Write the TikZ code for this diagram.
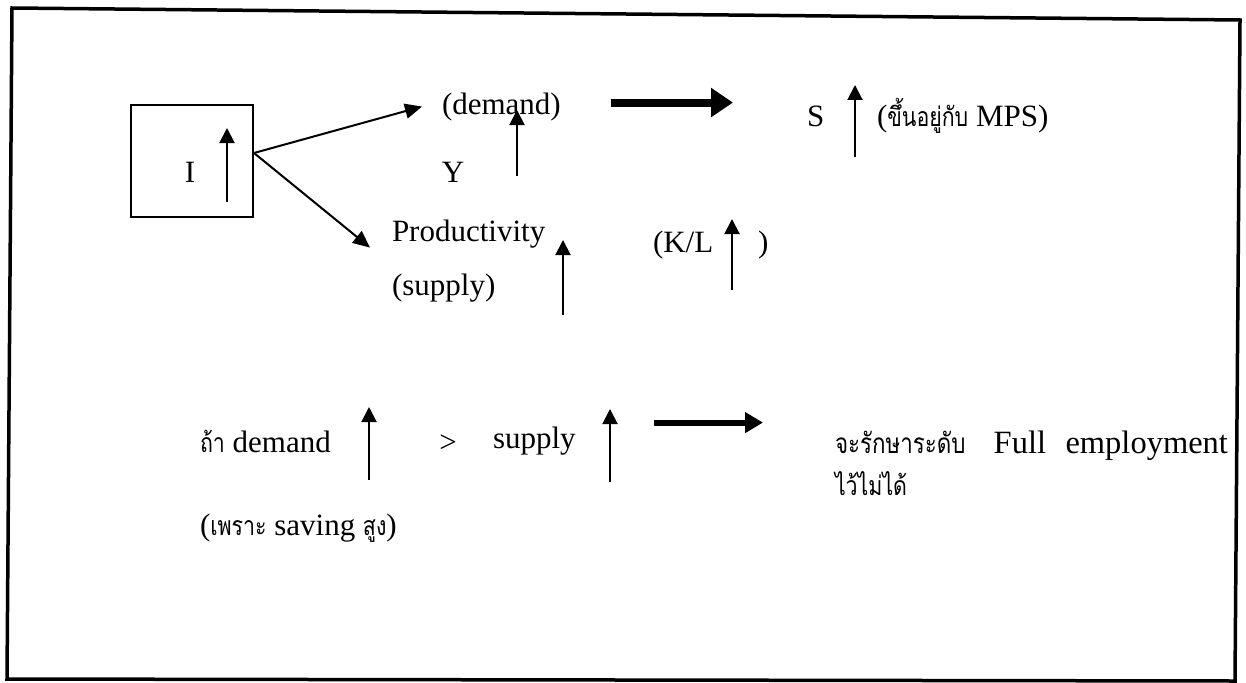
\documentclass[tikz,border=0pt]{standalone}
\usepackage{fontspec}
\setmainfont{Liberation Serif}
\newfontfamily\thai[Script=Thai,Scale=0.86,FakeStretch=0.8]{Loma}
\usetikzlibrary{arrows.meta,calc}
\tikzset{
  txt/.style={inner sep=0pt, outer sep=0pt, anchor=base west, font=\fontsize{31}{37}\selectfont},
  uparrow/.style={line width=2pt, -{Triangle[length=15pt,width=15pt]}},
  diagarrow/.style={line width=2pt, -{Triangle[length=17pt,width=15pt]}},
  bigarrow/.style={line width=8pt, -{Triangle[length=22pt,width=28pt]}},
  midarrow/.style={line width=6pt, -{Triangle[length=18pt,width=20pt]}},
}
\begin{document}
\begin{tikzpicture}[x=1pt,y=-1pt]
\useasboundingbox (0,0) rectangle (1246,682);
% outer frame
\draw[line width=3.5pt] (12,8) -- (1240,20) -- (1235,681) -- (7,679) -- cycle;
% box with I
\node[draw, line width=2pt, minimum width=122pt, minimum height=112pt, inner sep=0pt] (box) at (192,161) {};
\node[txt, anchor=base] (I) at (190,182) {I};
\coordinate (aI1) at (227,202); \coordinate (aI2) at (227,128);
\draw[uparrow] (aI1) -- (aI2);
% top row
\node[txt] (dem) at (442,114) {(demand)};
\node[txt, anchor=base] (Y) at (453,182) {Y};
\coordinate (aY1) at (517,176); \coordinate (aY2) at (517,110);
\draw[uparrow] (aY1) -- (aY2);
\node[txt] (S) at (807,127) {S};
\coordinate (aS1) at (855,157); \coordinate (aS2) at (855,85);
\draw[uparrow] (aS1) -- (aS2);
\node[txt] (mps) at (877,127) {({\thai ขึ้นอยู่กับ} MPS)};
% productivity
\node[txt] (prod) at (392,241) {Productivity};
\node[txt] (sup1) at (392,295) {(supply)};
\coordinate (aP1) at (563,315); \coordinate (aP2) at (563,240);
\draw[uparrow] (aP1) -- (aP2);
\node[txt] (kl) at (653,252) {(K/L};
\coordinate (aK1) at (732,290); \coordinate (aK2) at (732,219);
\draw[uparrow] (aK1) -- (aK2);
\node[txt] (klc) at (758,252) {)};
% connectors from box
\coordinate (bstart) at ([yshift=8pt]box.east);
\draw[diagarrow] (bstart) -- ([xshift=-20pt]dem.west);
\draw[diagarrow] (bstart) -- ([xshift=-22pt,yshift=-14pt]prod.west);
% thick top arrow
\coordinate (t1s) at ([xshift=50pt,yshift=4pt]dem.east);
\coordinate (t1e) at ([xshift=-74pt]S.west);
\draw[bigarrow] (t1s) -- (t1s -| t1e);
% bottom row
\node[txt] (ifd) at (200,452) {{\thai ถ้า} demand};
\coordinate (aD1) at (369,480); \coordinate (aD2) at (369,407);
\draw[uparrow] (aD1) -- (aD2);
\node[txt, anchor=base] (gt) at (448,452) {>};
\node[txt] (sup2) at (493,448) {supply};
\coordinate (aU1) at (610,482); \coordinate (aU2) at (610,409);
\draw[uparrow] (aU1) -- (aU2);
\node[txt] (because) at (200,535) {({\thai เพราะ} saving {\thai สูง})};
\node[txt, font=\fontsize{32.5}{38}\selectfont] (full) at (835,453) {\hbox to 393pt{{\thai จะรักษาระดับ}\hskip 28pt Full\hfil employment}};
\node[txt] (full2) at (835,495) {{\thai ไว้ไม่ได้}};
\coordinate (t2s) at ([xshift=78pt,yshift=18pt]sup2.east);
\coordinate (t2e) at ([xshift=-72pt]full.west);
\draw[midarrow] (t2s) -- (t2s -| t2e);
\end{tikzpicture}
\end{document}
